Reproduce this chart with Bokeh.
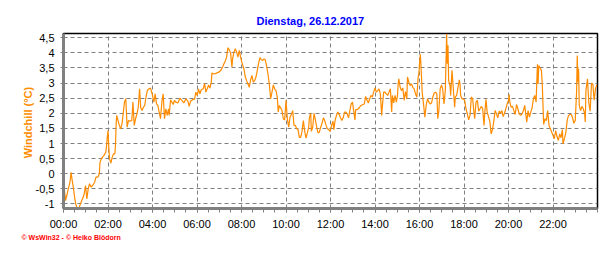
from bokeh.plotting import figure
from bokeh.models import FixedTicker, Range1d, Title
from bokeh.embed import file_html
from bokeh.resources import INLINE

# ---------------- data ----------------
title_text = "Dienstag, 26.12.2017"
y_label_text = "Windchill  (°C)"
footer_text = "© WsWin32 - © Heiko Blödorn"

x_ticks = [0, 2, 4, 6, 8, 10, 12, 14, 16, 18, 20, 22]
x_tick_labels = ["00:00", "02:00", "04:00", "06:00", "08:00", "10:00",
                 "12:00", "14:00", "16:00", "18:00", "20:00", "22:00"]
y_ticks = [-1.0, -0.5, 0.0, 0.5, 1.0, 1.5, 2.0, 2.5, 3.0, 3.5, 4.0, 4.5]
y_tick_labels = ["-1", "-0,5", "0", "0,5", "1", "1,5", "2", "2,5", "3", "3,5", "4", "4,5"]

hours = [
    0.00, 0.09, 0.15, 0.20, 0.29, 0.34, 0.38, 0.44, 0.50, 0.55, 0.61, 0.70, 0.79, 0.88, 0.93, 0.99,
    1.05, 1.11, 1.17, 1.23, 1.31, 1.40, 1.46, 1.55, 1.61, 1.64, 1.72, 1.81, 1.90, 1.93, 1.97, 2.00,
    2.03, 2.07, 2.13, 2.19, 2.25, 2.31, 2.34, 2.36, 2.39, 2.45, 2.51, 2.57, 2.63, 2.69, 2.74, 2.80,
    2.86, 2.92, 2.98, 3.07, 3.12, 3.18, 3.24, 3.30, 3.36, 3.42, 3.47, 3.53, 3.59, 3.65, 3.71, 3.77,
    3.85, 3.91,
    4.00, 4.06, 4.12, 4.18, 4.24, 4.30, 4.36, 4.42, 4.48, 4.54, 4.60, 4.66, 4.72, 4.75, 4.81, 4.87,
    4.93, 4.99, 5.05, 5.14, 5.23, 5.32, 5.41, 5.50, 5.59, 5.65, 5.71, 5.80, 5.89, 5.95, 6.01, 6.07,
    6.13, 6.19, 6.28, 6.34, 6.40, 6.46, 6.52, 6.58, 6.64, 6.67, 6.76, 6.88, 7.00, 7.09, 7.15, 7.21,
    7.27, 7.33, 7.39, 7.45, 7.51, 7.57, 7.60, 7.66, 7.72, 7.78, 7.84, 7.90, 7.96, 8.01,
    8.11, 8.17, 8.23, 8.29, 8.35, 8.41, 8.47, 8.53, 8.59, 8.65, 8.71, 8.77, 8.83, 8.89, 8.95, 9.01,
    9.07, 9.13, 9.19, 9.25, 9.31, 9.37, 9.43, 9.49, 9.55, 9.61, 9.65, 9.70, 9.76, 9.82, 9.88, 9.94,
    10.00, 10.06, 10.12, 10.18, 10.24, 10.30, 10.36, 10.42, 10.48, 10.54, 10.60, 10.66, 10.72, 10.78,
    10.84, 10.90, 10.96, 11.02, 11.05, 11.11, 11.14, 11.20, 11.26, 11.32, 11.38, 11.44, 11.50, 11.56,
    11.62, 11.68, 11.74, 11.80, 11.86, 11.92, 11.98, 12.05, 12.11,
    12.15, 12.21, 12.27, 12.33, 12.39, 12.45, 12.51, 12.57, 12.63, 12.69, 12.75, 12.81, 12.87, 12.93,
    12.99, 13.04, 13.10, 13.13, 13.19, 13.25, 13.31, 13.37, 13.46, 13.52, 13.58, 13.64, 13.70, 13.76,
    13.82, 13.88, 13.94, 14.00, 14.06, 14.12, 14.18, 14.24, 14.30, 14.33, 14.39, 14.45, 14.51, 14.57,
    14.63, 14.69, 14.75, 14.78, 14.84, 14.90, 14.96, 15.01, 15.04, 15.07, 15.13, 15.19, 15.25, 15.31,
    15.37, 15.43, 15.46, 15.52, 15.58, 15.64, 15.70, 15.76, 15.82, 15.88, 15.91, 15.94, 15.97, 16.00,
    16.04, 16.09, 16.12,
    16.18, 16.24, 16.30, 16.36, 16.42, 16.48, 16.54, 16.60, 16.66, 16.72, 16.78, 16.82, 16.87, 16.93,
    16.99, 17.04, 17.10, 17.16, 17.19, 17.22, 17.25, 17.28, 17.31, 17.37, 17.40, 17.46, 17.52, 17.58,
    17.61, 17.67, 17.73, 17.79, 17.82, 17.85, 17.91, 17.97, 18.03, 18.09, 18.15, 18.21, 18.27, 18.33,
    18.39, 18.45, 18.48, 18.54, 18.60, 18.66, 18.72, 18.78, 18.84, 18.90, 18.93, 18.99, 19.04, 19.10,
    19.16, 19.22, 19.28, 19.34, 19.40, 19.46, 19.52, 19.58, 19.64, 19.70, 19.76, 19.82, 19.88, 19.94,
    20.00,
    20.03, 20.06, 20.12, 20.18, 20.24, 20.30, 20.36, 20.42, 20.48, 20.55, 20.61, 20.67, 20.73, 20.79,
    20.82, 20.88, 20.94, 21.00, 21.06, 21.12, 21.18, 21.24, 21.30, 21.33, 21.36, 21.42, 21.48, 21.52,
    21.58, 21.64, 21.70, 21.76, 21.82, 21.88, 21.94, 22.00, 22.06, 22.12, 22.18, 22.24, 22.30, 22.36,
    22.42, 22.45, 22.52, 22.58, 22.64, 22.70, 22.76, 22.82, 22.88, 22.94, 23.00, 23.06, 23.09, 23.12,
    23.15, 23.18, 23.24, 23.30, 23.36, 23.42, 23.45, 23.48, 23.55, 23.61, 23.67, 23.73, 23.79, 23.85,
    23.91, 23.97,
]

windchill = [
    -0.20, -0.89, -0.72, -0.55, -0.28, 0.05, -0.17, -0.44, -0.78, -1.00, -1.12, -1.12, -0.94, -0.78, -0.67, -0.39,
    -0.83, -0.50, -0.33, -0.44, -0.39, -0.28, -0.11, -0.11, 0.00, 0.38, 0.52, 0.60, 0.71, 0.88, 1.23, 1.43,
    0.93, 0.49, 0.35, 0.55, 0.66, 0.66, 0.99, 1.54, 1.93, 1.76, 1.60, 1.49, 1.65, 2.04, 2.37, 2.48,
    1.54, 1.76, 1.74, 1.76, 2.37, 1.60, 1.82, 1.98, 2.20, 2.81, 2.18, 2.09, 2.20, 2.26, 2.54, 2.76,
    2.81, 2.84,
    2.59, 2.37, 2.64, 2.31, 2.26, 2.04, 1.82, 2.37, 2.64, 1.82, 2.15, 1.93, 2.15, 1.93, 2.45, 2.37,
    2.29, 2.43, 2.37, 2.34, 2.50, 2.43, 2.34, 2.48, 2.40, 2.23, 2.40, 2.45, 2.47, 2.70, 2.59, 2.81,
    2.64, 2.78, 2.81, 2.99, 2.70, 2.81, 2.94, 2.83, 3.01, 3.33, 3.30, 3.33, 3.37, 3.44, 3.53, 3.64,
    3.73, 3.86, 4.17, 4.10, 3.99, 3.53, 3.80, 4.03, 4.14, 4.03, 3.86, 4.08, 3.86, 3.70,
    3.47, 3.20, 3.08, 2.97, 2.86, 3.11, 3.25, 3.03, 3.08, 3.20, 3.42, 3.66, 3.84, 3.77, 3.75, 3.80,
    3.77, 3.55, 3.30, 2.97, 2.48, 2.70, 2.94, 2.81, 2.75, 2.53, 2.04, 2.26, 2.18, 2.09, 1.82, 1.78,
    2.43, 1.82, 1.54, 1.87, 1.96, 2.09, 1.60, 1.60, 1.49, 1.46, 1.20, 1.20, 1.40, 1.76,
    1.40, 1.18, 1.35, 1.54, 1.85, 2.00, 1.40, 1.54, 2.00, 1.78, 1.54, 1.35, 1.38, 1.54,
    1.67, 1.85, 1.76, 1.60, 1.49, 1.46, 1.40, 1.60, 1.74,
    1.46, 1.78, 1.93, 2.04, 1.96, 1.85, 1.76, 1.85, 2.04, 2.04, 1.98, 1.85, 2.09, 2.31,
    2.37, 2.09, 1.78, 2.12, 2.12, 2.15, 2.20, 2.26, 2.29, 2.31, 2.56, 2.43, 2.34, 2.48,
    2.59, 2.54, 2.70, 2.84, 2.70, 2.75, 2.81, 2.64, 1.93, 2.23, 2.70, 2.70, 2.64, 2.59,
    2.70, 2.81, 2.04, 2.59, 2.34, 2.59, 2.37, 2.59, 2.97, 3.14, 2.86, 2.75, 2.84, 2.43,
    2.72, 2.48, 3.20, 3.03, 2.92, 2.97, 2.86, 2.81, 2.64, 2.54, 2.86, 3.20, 3.30, 3.64,
    3.95, 3.20, 2.70,
    2.31, 1.87, 2.26, 2.48, 2.37, 2.31, 2.34, 2.54, 2.67, 2.70, 2.64, 1.82, 2.09, 2.81,
    2.94, 2.81, 2.31, 2.75, 3.69, 4.63, 3.64, 4.25, 3.08, 2.92, 2.59, 3.42, 2.81, 2.20,
    2.54, 2.59, 2.86, 3.11, 2.97, 2.59, 2.48, 2.48, 2.43, 2.15, 1.98, 1.78, 1.93, 2.54,
    2.48, 2.00, 1.82, 2.37, 2.43, 2.07, 2.15, 2.23, 2.15, 1.60, 1.98, 2.46, 2.04, 1.89,
    1.74, 1.32, 1.46, 1.74, 2.09, 1.98, 1.85, 2.07, 2.00, 2.09, 1.89, 2.00, 2.15, 2.31,
    2.43,
    2.62, 2.37, 2.20, 2.23, 2.09, 1.96, 2.29, 2.15, 1.98, 1.93, 1.98, 2.09, 2.26, 1.89,
    1.71, 2.09, 1.87, 2.04, 2.18, 2.48, 2.59, 2.37, 3.62, 2.97, 3.58, 3.50, 3.42, 2.92,
    1.63, 1.82, 1.76, 2.09, 1.60, 1.49, 1.38, 1.27, 1.16, 1.43, 1.23, 1.10, 1.32, 1.19,
    1.46, 0.99, 1.18, 1.38, 1.78, 1.93, 1.96, 1.96, 1.85, 1.67, 1.76, 2.70, 3.91, 3.03,
    3.47, 2.26, 2.09, 2.23, 2.15, 2.00, 1.71, 2.75, 3.14, 2.34, 2.07, 2.99, 2.97, 2.43,
    2.81, 2.94,
]

# ---------------- layout ----------------
W, H = 616, 253
FL, FR, FT, FB = 63, 597, 33, 208      # frame edges in pixels
FONT = "Liberation Sans"
GRAY = "#808080"

p = figure(width=W, height=H, output_backend="svg", toolbar_location=None,
           x_range=Range1d(0, 24), y_range=Range1d(-1.15, 4.64),
           min_border_left=FL, min_border_right=W - FR,
           min_border_top=FT, min_border_bottom=H - FB)
p.background_fill_color = "white"
p.border_fill_color = "white"
p.outline_line_color = "black"
p.outline_line_width = 1.5

p.line(hours, windchill, line_color="#FF8C00", line_width=1.2)

p.title.text = title_text
p.title.align = "left"
p.title.offset = 193
p.title.standoff = 14
p.title.text_font = FONT
p.title.text_font_size = "11px"
p.title.text_font_style = "bold"
p.title.text_color = "#0000FF"

p.add_layout(Title(text=footer_text, align="left", offset=-42, standoff=-2,
                   text_font=FONT, text_font_size="7px", text_font_style="bold",
                   text_color="#FF0000"), "below")

p.xaxis.ticker = FixedTicker(ticks=x_ticks, minor_ticks=[i * 0.5 for i in range(49)])
p.xaxis.major_label_overrides = {float(t): l for t, l in zip(x_ticks, x_tick_labels)}
p.yaxis.ticker = FixedTicker(ticks=y_ticks, minor_ticks=[])
p.yaxis.major_label_overrides = {float(t): l for t, l in zip(y_ticks, y_tick_labels)}

for ax in (p.xaxis, p.yaxis):
    ax.axis_line_color = GRAY
    ax.axis_line_width = 3
    ax.major_tick_line_color = GRAY
    ax.minor_tick_line_color = GRAY
    ax.major_tick_in = 0
    ax.minor_tick_in = 0
    ax.major_label_text_font = FONT
    ax.major_label_text_font_size = "11px"
    ax.major_label_text_color = "black"

p.xaxis.major_tick_out = 4
p.xaxis.minor_tick_out = 4
p.xaxis.major_label_standoff = 5
p.yaxis.major_tick_out = 3
p.yaxis.minor_tick_out = 0
p.yaxis.major_label_standoff = 6

p.yaxis.axis_label = y_label_text
p.yaxis.axis_label_text_font = FONT
p.yaxis.axis_label_text_font_size = "11px"
p.yaxis.axis_label_text_font_style = "bold"
p.yaxis.axis_label_text_color = "#FF8C00"
p.yaxis.axis_label_standoff = -1

p.grid.grid_line_color = GRAY
p.grid.grid_line_dash = "4 3"
p.grid.grid_line_width = 1

open("out.html", "w").write(file_html(p, INLINE))
